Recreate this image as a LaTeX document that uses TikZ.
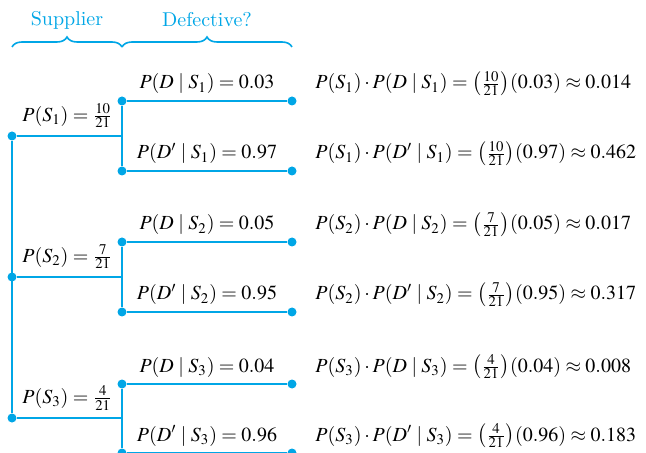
\documentclass[tikz,border=0pt]{standalone}
\usepackage{mathptmx}
\usepackage{tikz}
\usetikzlibrary{positioning,decorations.pathreplacing}
\definecolor{treeCyan}{RGB}{0,166,230}

\begin{document}
\begin{tikzpicture}[x=0.5pt,y=-0.5pt,
    branch/.style={treeCyan, line width=1pt},
    dot/.style={circle, fill=treeCyan, inner sep=0pt, minimum size=4.5pt},
    lbl/.style={font=\fontsize{10}{12}\selectfont, inner sep=1pt, text=black},
  ]
    \useasboundingbox (0,0) rectangle (646,453);

    % Stage headings with braces
    \node[lbl, text=treeCyan] (supplier) at (67,20) {Supplier};
    \node[lbl, text=treeCyan] (defective) at (207,20) {Defective?};
    \draw[branch, line width=0.8pt, decorate, decoration={brace, amplitude=5pt}] (12,47) -- (122,47);
    \draw[branch, line width=0.8pt, decorate, decoration={brace, amplitude=5pt}] (122,47) -- (292,47);

    % Supplier dots
    \node[dot] (s1) at (12,136) {};
    \node[dot] (s2) at (12,277) {};
    \node[dot] (s3) at (12,418) {};
    \coordinate (j1) at (122,136);
    \coordinate (j2) at (122,277);
    \coordinate (j3) at (122,418);

    % Defective dots (start and end of each branch)
    \node[dot] (d1) at (122,101) {};  \node[dot] (e1) at (292,101) {};
    \node[dot] (n1) at (122,171) {};  \node[dot] (m1) at (292,171) {};
    \node[dot] (d2) at (122,242) {};  \node[dot] (e2) at (292,242) {};
    \node[dot] (n2) at (122,312) {};  \node[dot] (m2) at (292,312) {};
    \node[dot] (d3) at (122,384) {};  \node[dot] (e3) at (292,384) {};
    \node[dot] (n3) at (122,453) {};  \node[dot] (m3) at (292,453) {};

    % First stage
    \draw[branch] (s1) -- (s3);
    \draw[branch] (s1) -- (j1) node[lbl, midway, above=2.5pt, xshift=-1pt] (ps1) {$P(S_1) = \frac{10}{21}$};
    \draw[branch] (s2) -- (j2) node[lbl, midway, above=2.5pt, xshift=-1pt] (ps2) {$P(S_2) = \frac{7}{21}$};
    \draw[branch] (s3) -- (j3) node[lbl, midway, above=2.5pt, xshift=-1pt] (ps3) {$P(S_3) = \frac{4}{21}$};

    % Second stage
    \draw[branch] (d1) -- (n1);
    \draw[branch] (d2) -- (n2);
    \draw[branch] (d3) -- (n3);
    \draw[branch] (d1) -- (e1) node[lbl, midway, above=2pt] (pd1) {$P(D \mid S_1) = 0.03$};
    \draw[branch] (n1) -- (m1) node[lbl, midway, above=2pt] (pn1) {$P(D' \mid S_1) = 0.97$};
    \draw[branch] (d2) -- (e2) node[lbl, midway, above=2pt] (pd2) {$P(D \mid S_2) = 0.05$};
    \draw[branch] (n2) -- (m2) node[lbl, midway, above=2pt] (pn2) {$P(D' \mid S_2) = 0.95$};
    \draw[branch] (d3) -- (e3) node[lbl, midway, above=2pt] (pd3) {$P(D \mid S_3) = 0.04$};
    \draw[branch] (n3) -- (m3) node[lbl, midway, above=2pt] (pn3) {$P(D' \mid S_3) = 0.96$};

    % Path products
    \node[lbl, anchor=base west] (r1) at (313,89) {$P(S_1)\cdot P(D \mid S_1) = \bigl(\frac{10}{21}\bigr)(0.03) \approx 0.014$};
    \node[lbl, anchor=base west] (r2) at (313,159) {$P(S_1)\cdot P(D' \mid S_1) = \bigl(\frac{10}{21}\bigr)(0.97) \approx 0.462$};
    \node[lbl, anchor=base west] (r3) at (313,230) {$P(S_2)\cdot P(D \mid S_2) = \bigl(\frac{7}{21}\bigr)(0.05) \approx 0.017$};
    \node[lbl, anchor=base west] (r4) at (313,300) {$P(S_2)\cdot P(D' \mid S_2) = \bigl(\frac{7}{21}\bigr)(0.95) \approx 0.317$};
    \node[lbl, anchor=base west] (r5) at (313,372) {$P(S_3)\cdot P(D \mid S_3) = \bigl(\frac{4}{21}\bigr)(0.04) \approx 0.008$};
    \node[lbl, anchor=base west] (r6) at (313,441) {$P(S_3)\cdot P(D' \mid S_3) = \bigl(\frac{4}{21}\bigr)(0.96) \approx 0.183$};
\end{tikzpicture}
\end{document}
